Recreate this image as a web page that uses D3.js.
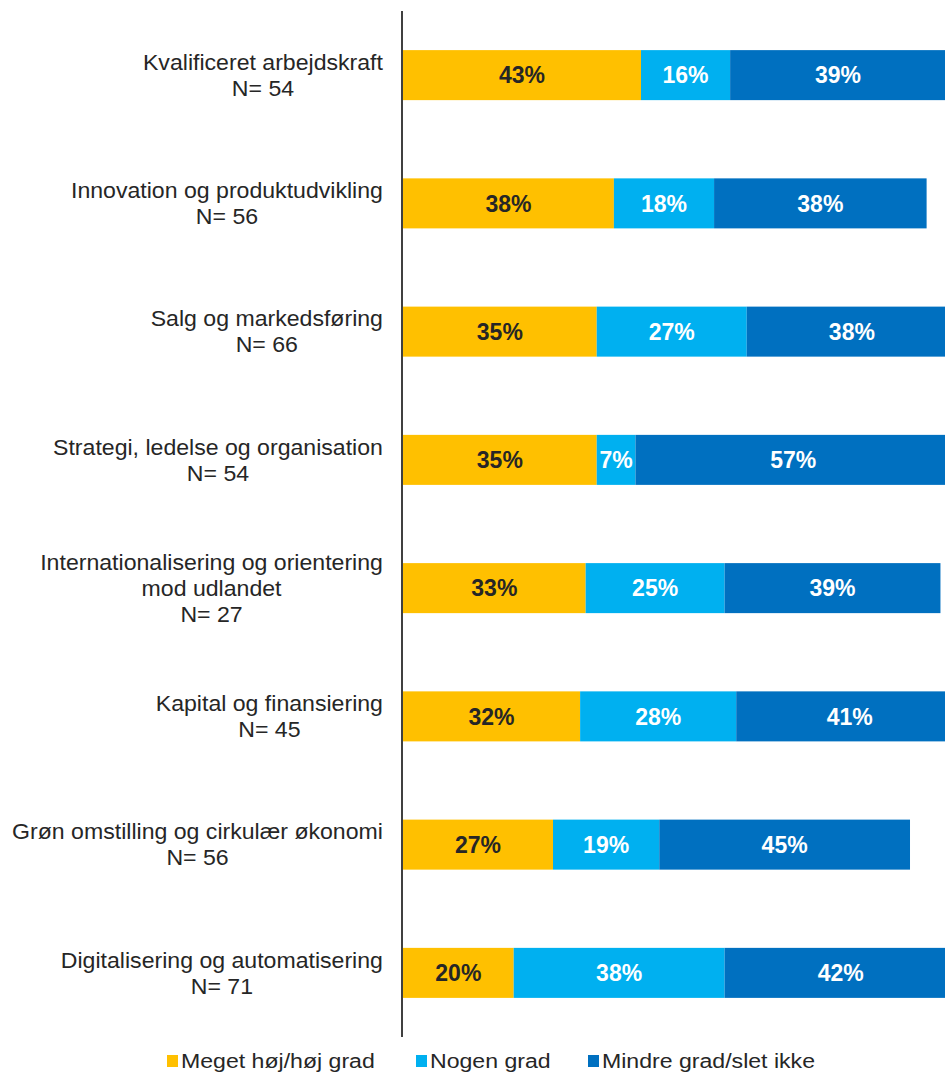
<!DOCTYPE html>
<html><head><meta charset="utf-8">
<script src="https://cdn.jsdelivr.net/npm/d3@7"></script>
<style>html,body{margin:0;padding:0;background:#fff;overflow:hidden}</style>
</head><body>
<svg id="c" width="945" height="1074"></svg>
<script>
const categories = [
  ["Kvalificeret arbejdskraft","N= 54"],
  ["Innovation og produktudvikling","N= 56"],
  ["Salg og markedsføring","N= 66"],
  ["Strategi, ledelse og organisation","N= 54"],
  ["Internationalisering og orientering","mod udlandet","N= 27"],
  ["Kapital og finansiering","N= 45"],
  ["Grøn omstilling og cirkulær økonomi","N= 56"],
  ["Digitalisering og automatisering","N= 71"]
];
const seriesNames = ["Meget høj/høj grad","Nogen grad","Mindre grad/slet ikke"];
const highValues  = [43.0, 38.1, 35.0, 35.0, 33.0, 32.0, 27.1, 20.0];
const someValues  = [16.1, 18.1, 27.1, 7.0, 25.1, 28.2, 19.2, 38.1];
const lowValues   = [39.0, 38.4, 38.0, 57.0, 39.0, 41.0, 45.3, 42.0];
const colors = ["#FFC000","#00B0F0","#0070C0"];
const labelColors = ["#262626","#ffffff","#ffffff"];
const FONT = "Liberation Sans, Arial, sans-serif";

const svg = d3.select("#c");
const x0 = 403;
const x = d3.scaleLinear().domain([0,100]).range([x0, x0 + 553.5]);
const y = d3.scaleBand().domain(d3.range(categories.length)).range([11, 1037]).paddingInner(0.61).paddingOuter(0.305);

const series = [highValues, someValues, lowValues];
const rows = categories.map((c,i)=>{
  let acc = 0;
  return series.map((s,k)=>{ const v = {k, start: acc, end: acc + s[i], v: s[i]}; acc += s[i]; return v; });
});

const g = svg.append("g");
rows.forEach((segs,i)=>{
  const rg = g.append("g");
  rg.selectAll("rect").data(segs).join("rect")
    .attr("x", d=>x(d.start)).attr("width", d=>x(d.end)-x(d.start))
    .attr("y", y(i)).attr("height", y.bandwidth())
    .attr("fill", d=>colors[d.k]);
  rg.selectAll("text").data(segs).join("text")
    .attr("x", d=>(x(d.start)+x(d.end))/2)
    .attr("y", y(i)+y.bandwidth()/2)
    .attr("dy","0.36em")
    .attr("text-anchor","middle")
    .attr("font-family",FONT)
    .attr("font-weight","bold").attr("font-size","23px")
    .attr("fill", d=>labelColors[d.k])
    .text(d=>d3.format(".0f")(d.v)+"%");
});

// axis line
svg.append("line").attr("x1",402).attr("x2",402).attr("y1",11).attr("y2",1037)
  .attr("stroke","#000").attr("stroke-width",1.5);

// category labels (slightly wide rendering like the original)
const lh = 26;
const sx = 1.05;
categories.forEach((lines,i)=>{
  const cy = y(i)+y.bandwidth()/2;
  const t = svg.append("text")
    .attr("font-family",FONT)
    .attr("font-size","22px").attr("fill","#262626").attr("text-anchor","middle");
  const n = lines.length;
  lines.forEach((l,j)=>{
    t.append("tspan").attr("x",0).attr("y", cy + (j-(n-1)/2)*lh).attr("dy","0.35em").text(l);
  });
  const w = d3.max(t.selectAll("tspan").nodes(), nd=>nd.getComputedTextLength()) * sx;
  t.attr("transform", `translate(${383 - w/2},0) scale(${sx},1)`);
});

// legend
const legX = [167, 416, 588];
seriesNames.forEach((s,k)=>{
  svg.append("rect").attr("x",legX[k]).attr("y",1055).attr("width",11).attr("height",12).attr("fill",colors[k]);
  svg.append("text").attr("x",0).attr("y",1068)
    .attr("transform",`translate(${legX[k]+14},0) scale(1.1,1)`)
    .attr("font-family",FONT).attr("font-size","21px").attr("fill","#262626").text(s);
});
</script>
</body></html>
